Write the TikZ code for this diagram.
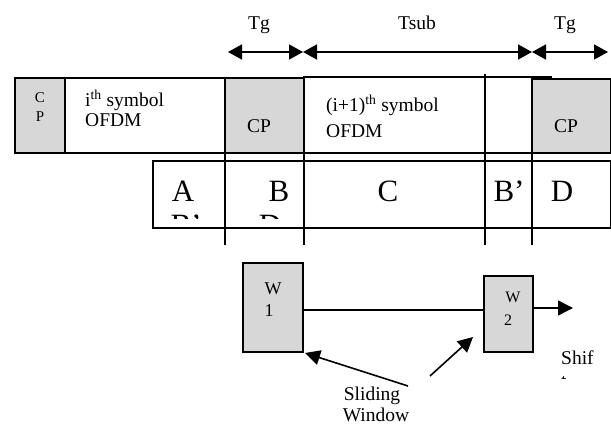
\documentclass[tikz,border=0pt]{standalone}
\usepackage{fontspec}
\setmainfont{Liberation Serif}
\usetikzlibrary{arrows.meta}
\definecolor{boxgray}{RGB}{215,215,215}
\tikzset{
  box/.style={draw, line width=1.4pt, anchor=north west, inner sep=0pt, outer sep=0pt},
  gbox/.style={box, fill=boxgray},
  lbl/.style={inner sep=0pt, font=\fontsize{19.5}{21}\selectfont},
  big/.style={inner sep=0pt, font=\fontsize{31}{34}\selectfont},
  tick/.style={line width=1.2pt},
  dim/.style={line width=1.6pt, {Triangle[length=14pt,width=15pt]}-{Triangle[length=14pt,width=15pt]}},
  arr/.style={line width=1.6pt, -{Triangle[length=15pt,width=15pt]}},
}
\begin{document}
\begin{tikzpicture}[x=1pt,y=-1pt]
\useasboundingbox (0,0) rectangle (611,427);
% top dimension arrows
\coordinate (d0) at (228,52);
\coordinate (d1) at (303,52);
\coordinate (d2) at (532,52);
\coordinate (d3) at (608,52);
\draw[dim] (d0) -- (d1);
\draw[dim] (d1) -- (d2);
\draw[dim] (d2) -- (d3);
\node[lbl, anchor=base] (tg1) at (259,30) {Tg};
\node[lbl, anchor=base] (tsub) at (417,30) {Tsub};
\node[lbl, anchor=base] (tg2) at (565,30) {Tg};
% row 1
\draw[line width=1.4pt] (485,77) -- (552,77);
\node[gbox, minimum width=50pt, minimum height=75pt] (cpL) at (15,78) {};
\node[box, minimum width=160pt, minimum height=75pt] (sym1) at (65,78) {};
\node[gbox, minimum width=79pt, minimum height=75pt] (cp1) at (225,78) {};
\node[box, minimum width=181pt, minimum height=76pt] (sym2) at (304,77) {};
\node[box, minimum width=47pt, minimum height=76pt] (gap) at (485,77) {};
\node[gbox, minimum width=79pt, minimum height=74pt] (cp2) at (532,79) {};
\node[inner sep=0pt, anchor=base, font=\fontsize{15}{17}\selectfont] (cpLc) at (40,103) {C};
\node[inner sep=0pt, anchor=base, font=\fontsize{15}{17}\selectfont] (cpLp) at (40,122) {P};
\node[lbl, anchor=base west] (s1a) at (85,107) {i\textsuperscript{th} symbol};
\node[lbl, anchor=base west] (s1b) at (85,127) {OFDM};
\node[lbl, anchor=base] (cp1t) at (259,133) {CP};
\node[lbl, anchor=base west] (s2a) at (326,112) {(i+1)\textsuperscript{th} symbol};
\node[lbl, anchor=base west] (s2b) at (326,138) {OFDM};
\node[lbl, anchor=base] (cp2t) at (566,133) {CP};
% row 2
\node[box, minimum width=458pt, minimum height=67pt] (row2) at (153,161) {};
\draw[tick] (225,153) -- (225,245);
\draw[tick] (304,153) -- (304,245);
\draw[tick] (485,74) -- (485,245);
\draw[tick] (532,153) -- (532,245);
\node[big, anchor=base] (ca) at (183,202) {A};
\node[big, anchor=base] (cb) at (279,202) {B};
\node[big, anchor=base] (cc) at (388,202) {C};
\node[big, anchor=base] (cbp) at (509,202) {B’};
\node[big, anchor=base] (cd) at (562,202) {D};
\begin{scope}
\clip (153,161) rectangle (611,219);
\node[big, anchor=base] (ca2) at (186,236) {B’};
\node[big, anchor=base] (cb2) at (270,236) {D};
\end{scope}
% sliding windows
\node[gbox, minimum width=60pt, minimum height=89pt] (W1) at (243,263) {};
\node[gbox, minimum width=49pt, minimum height=76pt] (W2) at (484,276) {};
\node[inner sep=0pt, anchor=base, font=\fontsize{18}{20}\selectfont] (w1a) at (273,295) {W};
\node[inner sep=0pt, anchor=base, font=\fontsize{18}{20}\selectfont] (w1b) at (269,317) {1};
\node[inner sep=0pt, anchor=base, font=\fontsize{16}{18}\selectfont] (w2a) at (513,303) {W};
\node[inner sep=0pt, anchor=base, font=\fontsize{16}{18}\selectfont] (w2b) at (508,326) {2};
\draw[line width=1.2pt] (W1.east|-0,310) -- (W2.west|-0,310);
\coordinate (shiftend) at (573,308);
\draw[arr] (W2.east|-0,308) -- (shiftend);
\node[lbl, anchor=base west] (shif) at (561,365) {Shif};
\begin{scope}
\clip (540,370) rectangle (611,379);
\node[lbl, anchor=base west] (shift) at (561,388) {t};
\end{scope}
\node[lbl, anchor=base] (slid) at (372,401) {Sliding};
\node[lbl, anchor=base] (wind) at (376,422) {Window};
\coordinate (s1) at (408,386);
\coordinate (s2) at (430,376);
\coordinate (w1t) at (305,353);
\coordinate (w2t) at (473,337);
\draw[arr] (s1) -- (w1t);
\draw[arr] (s2) -- (w2t);
\end{tikzpicture}
\end{document}
